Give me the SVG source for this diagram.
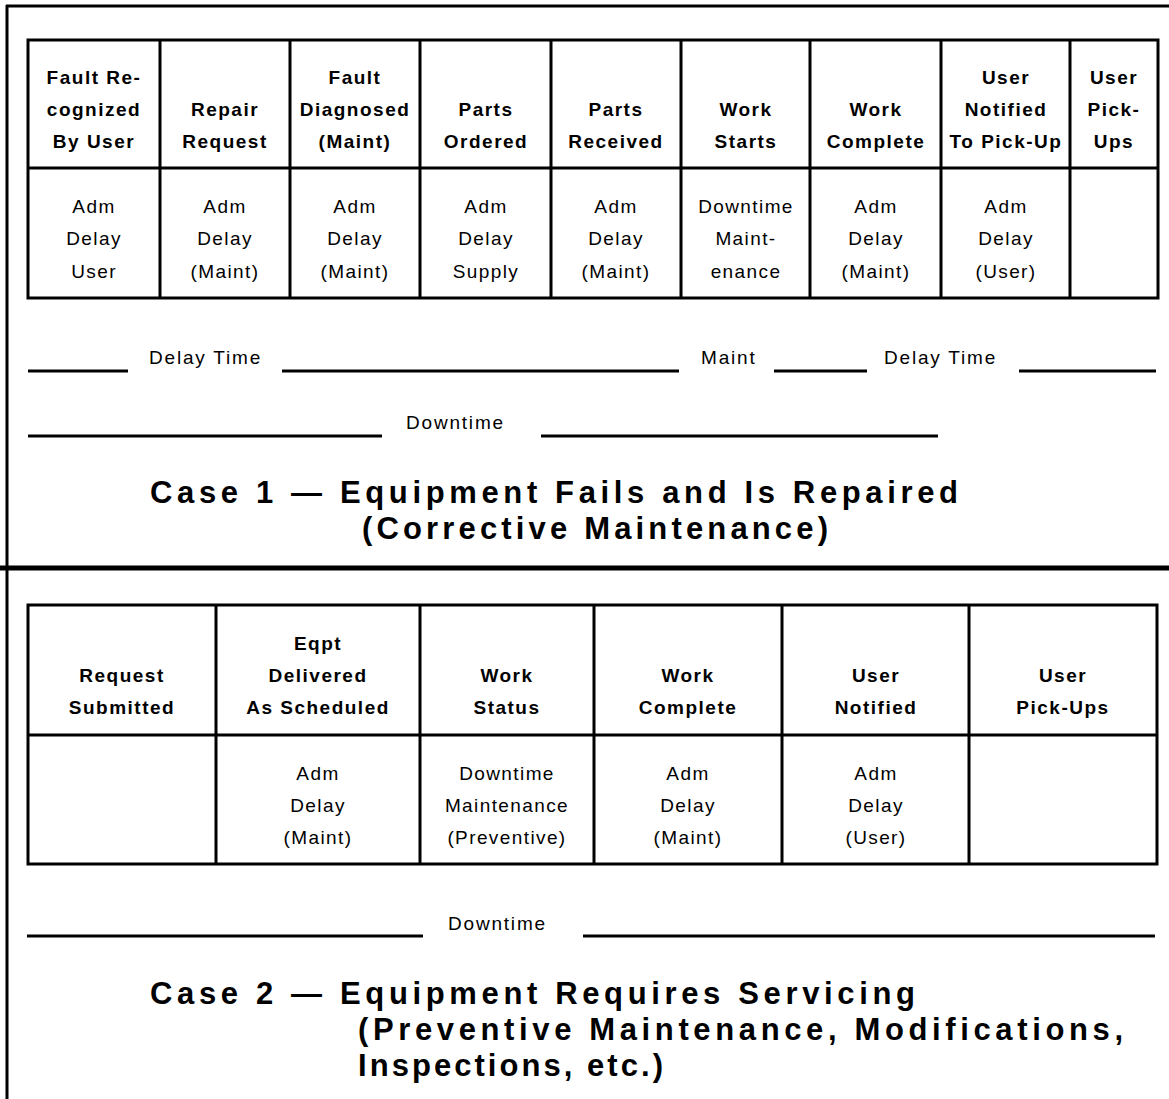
<svg xmlns="http://www.w3.org/2000/svg" width="1169" height="1099" viewBox="0 0 1169 1099">
<style>
.ln{stroke:#000;stroke-width:3;fill:none}
.box{stroke:#000;stroke-width:3;fill:none}
.h{font-family:"Liberation Sans",Arial,sans-serif;font-weight:bold;font-size:19px;letter-spacing:1.5px;text-anchor:middle;fill:#000}
.b{font-family:"Liberation Sans",Arial,sans-serif;font-size:19px;letter-spacing:1.4px;text-anchor:middle;fill:#000}
.l{font-family:"Liberation Sans",Arial,sans-serif;font-size:19px;letter-spacing:1.8px;fill:#000}
.t{font-family:"Liberation Sans",Arial,sans-serif;font-weight:bold;font-size:31px;fill:#000}
</style>
<rect width="1169" height="1099" fill="#fff"/>
<g id="frame">
<line class="ln" x1="7" y1="5" x2="7" y2="1099"/>
<line class="ln" x1="6" y1="6" x2="1169" y2="6"/>
<line x1="0" y1="568" x2="1169" y2="568" stroke="#000" stroke-width="5"/>
</g>
<g id="table1">
<rect class="box" x="28" y="40" width="1130" height="258"/>
<line class="ln" x1="28" y1="168" x2="1158" y2="168"/>
<line class="ln" x1="160" y1="40" x2="160" y2="298"/>
<line class="ln" x1="290" y1="40" x2="290" y2="298"/>
<line class="ln" x1="420" y1="40" x2="420" y2="298"/>
<line class="ln" x1="551" y1="40" x2="551" y2="298"/>
<line class="ln" x1="681" y1="40" x2="681" y2="298"/>
<line class="ln" x1="810" y1="40" x2="810" y2="298"/>
<line class="ln" x1="941" y1="40" x2="941" y2="298"/>
<line class="ln" x1="1070" y1="40" x2="1070" y2="298"/>
</g>
<g id="c1-fault-recognized"><text class="h" x="94" y="84">Fault Re-</text><text class="h" x="94" y="116">cognized</text><text class="h" x="94" y="148">By User</text>
<text class="b" x="94" y="213">Adm</text><text class="b" x="94" y="245">Delay</text><text class="b" x="94" y="278">User</text></g>
<g id="c1-repair-request"><text class="h" x="225" y="116">Repair</text><text class="h" x="225" y="148">Request</text>
<text class="b" x="225" y="213">Adm</text><text class="b" x="225" y="245">Delay</text><text class="b" x="225" y="278">(Maint)</text></g>
<g id="c1-fault-diagnosed"><text class="h" x="355" y="84">Fault</text><text class="h" x="355" y="116">Diagnosed</text><text class="h" x="355" y="148">(Maint)</text>
<text class="b" x="355" y="213">Adm</text><text class="b" x="355" y="245">Delay</text><text class="b" x="355" y="278">(Maint)</text></g>
<g id="c1-parts-ordered"><text class="h" x="486" y="116">Parts</text><text class="h" x="486" y="148">Ordered</text>
<text class="b" x="486" y="213">Adm</text><text class="b" x="486" y="245">Delay</text><text class="b" x="486" y="278">Supply</text></g>
<g id="c1-parts-received"><text class="h" x="616" y="116">Parts</text><text class="h" x="616" y="148">Received</text>
<text class="b" x="616" y="213">Adm</text><text class="b" x="616" y="245">Delay</text><text class="b" x="616" y="278">(Maint)</text></g>
<g id="c1-work-starts"><text class="h" x="746" y="116">Work</text><text class="h" x="746" y="148">Starts</text>
<text class="b" x="746" y="213">Downtime</text><text class="b" x="746" y="245">Maint-</text><text class="b" x="746" y="278">enance</text></g>
<g id="c1-work-complete"><text class="h" x="876" y="116">Work</text><text class="h" x="876" y="148">Complete</text>
<text class="b" x="876" y="213">Adm</text><text class="b" x="876" y="245">Delay</text><text class="b" x="876" y="278">(Maint)</text></g>
<g id="c1-user-notified"><text class="h" x="1006" y="84">User</text><text class="h" x="1006" y="116">Notified</text><text class="h" x="1006" y="148">To Pick-Up</text>
<text class="b" x="1006" y="213">Adm</text><text class="b" x="1006" y="245">Delay</text><text class="b" x="1006" y="278">(User)</text></g>
<g id="c1-user-pickups"><text class="h" x="1114" y="84">User</text><text class="h" x="1114" y="116">Pick-</text><text class="h" x="1114" y="148">Ups</text></g>
<g id="case1-timeline">
<line class="ln" x1="28" y1="371" x2="128" y2="371"/>
<text class="l" x="149" y="364">Delay Time</text>
<line class="ln" x1="282" y1="371" x2="679" y2="371"/>
<text class="l" x="701" y="364">Maint</text>
<line class="ln" x1="774" y1="371" x2="867" y2="371"/>
<text class="l" x="884" y="364">Delay Time</text>
<line class="ln" x1="1019" y1="371" x2="1156" y2="371"/>
<line class="ln" x1="28" y1="436" x2="382" y2="436"/>
<text class="l" x="406" y="429">Downtime</text>
<line class="ln" x1="541" y1="436" x2="938" y2="436"/>
</g>
<g id="case1-title">
<text class="t" x="150" y="503" textLength="808" lengthAdjust="spacing">Case 1 — Equipment Fails and Is Repaired</text>
<text class="t" x="362" y="539" textLength="466" lengthAdjust="spacing">(Corrective Maintenance)</text>
</g>
<g id="table2">
<rect class="box" x="28" y="605" width="1129" height="259"/>
<line class="ln" x1="28" y1="735" x2="1157" y2="735"/>
<line class="ln" x1="216" y1="605" x2="216" y2="864"/>
<line class="ln" x1="420" y1="605" x2="420" y2="864"/>
<line class="ln" x1="594" y1="605" x2="594" y2="864"/>
<line class="ln" x1="782" y1="605" x2="782" y2="864"/>
<line class="ln" x1="969" y1="605" x2="969" y2="864"/>
</g>
<g id="c2-request-submitted"><text class="h" x="122" y="682">Request</text><text class="h" x="122" y="714">Submitted</text></g>
<g id="c2-eqpt-delivered"><text class="h" x="318" y="650">Eqpt</text><text class="h" x="318" y="682">Delivered</text><text class="h" x="318" y="714">As Scheduled</text>
<text class="b" x="318" y="780">Adm</text><text class="b" x="318" y="812">Delay</text><text class="b" x="318" y="844">(Maint)</text></g>
<g id="c2-work-status"><text class="h" x="507" y="682">Work</text><text class="h" x="507" y="714">Status</text>
<text class="b" x="507" y="780">Downtime</text><text class="b" x="507" y="812">Maintenance</text><text class="b" x="507" y="844">(Preventive)</text></g>
<g id="c2-work-complete"><text class="h" x="688" y="682">Work</text><text class="h" x="688" y="714">Complete</text>
<text class="b" x="688" y="780">Adm</text><text class="b" x="688" y="812">Delay</text><text class="b" x="688" y="844">(Maint)</text></g>
<g id="c2-user-notified"><text class="h" x="876" y="682">User</text><text class="h" x="876" y="714">Notified</text>
<text class="b" x="876" y="780">Adm</text><text class="b" x="876" y="812">Delay</text><text class="b" x="876" y="844">(User)</text></g>
<g id="c2-user-pickups"><text class="h" x="1063" y="682">User</text><text class="h" x="1063" y="714">Pick-Ups</text></g>
<g id="case2-timeline">
<line class="ln" x1="27" y1="936" x2="423" y2="936"/>
<text class="l" x="448" y="930">Downtime</text>
<line class="ln" x1="583" y1="936" x2="1155" y2="936"/>
</g>
<g id="case2-title">
<text class="t" x="150" y="1004" textLength="765" lengthAdjust="spacing">Case 2 — Equipment Requires Servicing</text>
<text class="t" x="358" y="1040" textLength="765" lengthAdjust="spacing">(Preventive Maintenance, Modifications,</text>
<text class="t" x="358" y="1076" textLength="305" lengthAdjust="spacing">Inspections, etc.)</text>
</g>
</svg>
